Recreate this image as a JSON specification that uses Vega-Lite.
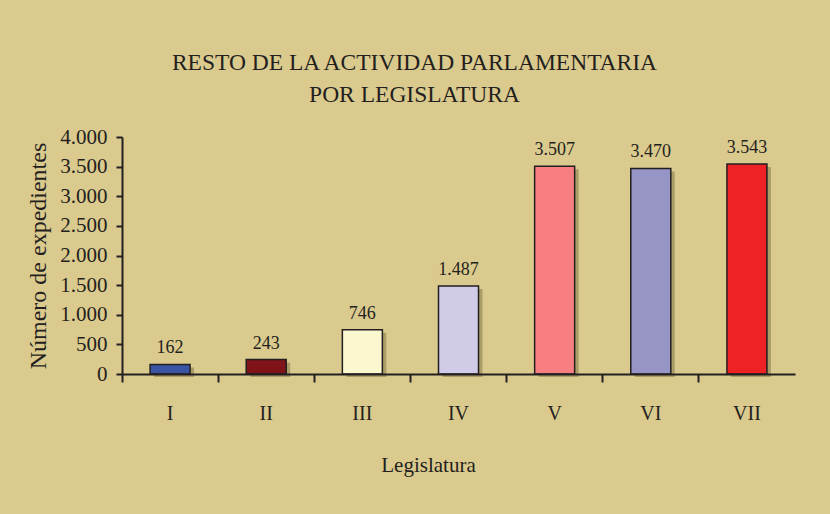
{
  "$schema": "https://vega.github.io/schema/vega-lite/v6.json",
  "width": 673,
  "height": 237,
  "autosize": "none",
  "padding": {"left": 122, "top": 137, "right": 35, "bottom": 140},
  "background": "#DBCA8D",
  "config": {
    "view": {"stroke": null},
    "font": "Liberation Serif, serif",
    "locale": {"number": {"decimal": ",", "thousands": ".", "grouping": [3], "currency": ["", " €"]}}
  },
  "title": {
    "text": ["RESTO DE LA ACTIVIDAD PARLAMENTARIA", "POR LEGISLATURA"],
    "font": "Liberation Serif, serif",
    "fontSize": 23.5,
    "fontWeight": "normal",
    "color": "#231F20",
    "lineHeight": 32,
    "anchor": "middle",
    "dx": -44,
    "offset": 20
  },
  "data": {
    "values": [
      {"leg": "I", "n": 162},
      {"leg": "II", "n": 243},
      {"leg": "III", "n": 746},
      {"leg": "IV", "n": 1487},
      {"leg": "V", "n": 3507},
      {"leg": "VI", "n": 3470},
      {"leg": "VII", "n": 3543}
    ]
  },
  "encoding": {
    "x": {
      "field": "leg",
      "type": "nominal",
      "sort": null,
      "scale": {"paddingInner": 0, "paddingOuter": 0},
      "axis": {
        "title": "Legislatura",
        "titleFont": "Liberation Serif, serif",
        "titleFontSize": 21,
        "titleFontWeight": "normal",
        "titleColor": "#231F20",
        "titleX": 306,
        "titleY": 80,
        "labelAngle": 0,
        "labelFont": "Liberation Serif, serif",
        "labelFontSize": 20,
        "labelColor": "#231F20",
        "labelPadding": 21,
        "bandPosition": 0,
        "tickSize": 8,
        "tickWidth": 2,
        "tickColor": "#231F20",
        "domainColor": "#231F20",
        "domainWidth": 2,
        "zindex": 1
      }
    },
    "y": {
      "field": "n",
      "type": "quantitative",
      "scale": {"domain": [0, 4000]},
      "axis": {
        "title": "Número de expedientes",
        "titleFont": "Liberation Serif, serif",
        "titleFontSize": 24,
        "titleFontWeight": "normal",
        "titleColor": "#231F20",
        "titlePadding": 9,
        "values": [0, 500, 1000, 1500, 2000, 2500, 3000, 3500, 4000],
        "format": ",d",
        "grid": false,
        "labelFont": "Liberation Serif, serif",
        "labelFontSize": 21,
        "labelColor": "#231F20",
        "labelPadding": 9,
        "tickSize": 6,
        "tickWidth": 2,
        "tickColor": "#231F20",
        "domainColor": "#231F20",
        "domainWidth": 2,
        "zindex": 1
      }
    }
  },
  "layer": [
    {
      "mark": {"type": "bar", "size": 40, "color": "#AB9D68", "xOffset": 4, "yOffset": 3}
    },
    {
      "mark": {"type": "bar", "size": 40, "stroke": "#231F20", "strokeWidth": 1.5},
      "encoding": {
        "color": {
          "field": "leg",
          "type": "nominal",
          "scale": {
            "domain": ["I", "II", "III", "IV", "V", "VI", "VII"],
            "range": ["#3A55A4", "#7F1318", "#FBF8D0", "#D0CCE8", "#F77F82", "#9695C6", "#EE2125"]
          },
          "legend": null
        }
      }
    },
    {
      "mark": {"type": "text", "baseline": "bottom", "dy": -7, "fontSize": 18, "font": "Liberation Serif, serif", "color": "#231F20"},
      "encoding": {
        "text": {"field": "n", "type": "quantitative", "format": ",d"}
      }
    }
  ]
}
